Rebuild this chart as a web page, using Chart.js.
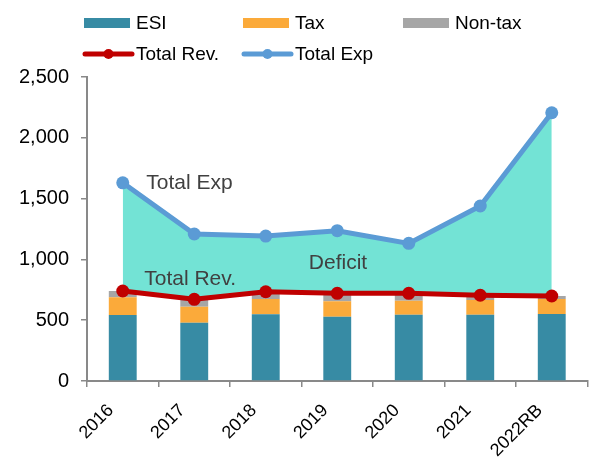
<!DOCTYPE html>
<html>
<head>
<meta charset="utf-8">
<script src="https://cdn.jsdelivr.net/npm/chart.js@4/dist/chart.umd.min.js"></script>
<style>
  html, body { margin: 0; padding: 0; background: #fff; }
  canvas { display: block; }
</style>
</head>
<body>
<canvas id="c" width="594" height="459"></canvas>
<script>
const years = ['2016','2017','2018','2019','2020','2021','2022RB'];
const esi = [543, 480, 548, 529, 545, 545, 551];
const tax = [145, 131, 126, 126, 115, 121, 123];
const nonTax = [52, 61, 60, 66, 61, 39, 25];
const totalRev = [740, 672, 734, 721, 721, 705, 699];
const totalExp = [1630, 1209, 1192, 1236, 1132, 1439, 2206];
const yTicks = [0, 500, 1000, 1500, 2000, 2500];

// in-chart labels: text, category position, value
const notes = [
  { text: 'Total Exp', x: 0.33, y: 1628, align: 'left' },
  { text: 'Total Rev.', x: 0.30, y: 839, align: 'left' },
  { text: 'Deficit', x: 3.01, y: 970, align: 'center' }
];

const FONT = '"Liberation Sans", Arial, sans-serif';
const axisGray = '#898989';

const notesPlugin = {
  id: 'notes',
  afterDatasetsDraw(chart) {
    const { ctx, scales: { x, y } } = chart;
    ctx.save();
    ctx.font = '21px ' + FONT;
    ctx.fillStyle = '#404040';
    ctx.textBaseline = 'middle';
    notes.forEach(n => {
      ctx.textAlign = n.align;
      ctx.fillText(n.text, x.getPixelForValue(n.x), y.getPixelForValue(n.y));
    });
    ctx.restore();
  }
};

// two-row legend with fixed columns
const legendPlugin = {
  id: 'gridLegend',
  afterDraw(chart) {
    const ctx = chart.ctx;
    const cols = [84, 243, 403], rows = [23, 54];
    ctx.save();
    ctx.font = '19px ' + FONT;
    ctx.textBaseline = 'middle';
    ctx.textAlign = 'left';
    chart.data.datasets.forEach((ds, i) => {
      const cx = cols[i < 3 ? i : i - 3], cy = rows[i < 3 ? 0 : 1];
      if (ds.type === 'line') {
        ctx.strokeStyle = ds.borderColor; ctx.lineWidth = 5; ctx.lineCap = 'round';
        ctx.beginPath(); ctx.moveTo(cx + 1, cy); ctx.lineTo(cx + 48, cy); ctx.stroke();
        ctx.fillStyle = ds.borderColor;
        ctx.beginPath(); ctx.arc(cx + 24.5, cy, 5, 0, Math.PI * 2); ctx.fill();
      } else {
        ctx.fillStyle = ds.backgroundColor;
        ctx.fillRect(cx, cy - 5, 46, 10);
      }
      ctx.fillStyle = '#000';
      ctx.fillText(ds.label, cx + 52, cy + 1);
    });
    ctx.restore();
  }
};

const barDs = (label, data, color) => ({
  type: 'bar', label, data, backgroundColor: color, stack: 'rev', order: 2,
  barPercentage: 0.39, categoryPercentage: 1
});

new Chart(document.getElementById('c'), {
  data: {
    labels: years,
    datasets: [
      barDs('ESI', esi, '#378ba4'),
      barDs('Tax', tax, '#fbaa3a'),
      barDs('Non-tax', nonTax, '#a6a6a6'),
      { type: 'line', label: 'Total Rev.', data: totalRev, stack: 'l1', order: 0,
        borderColor: '#c00000', backgroundColor: '#c00000', borderWidth: 5,
        pointRadius: 6.5, pointBackgroundColor: '#c00000', pointBorderWidth: 0, fill: false },
      { type: 'line', label: 'Total Exp', data: totalExp, stack: 'l2', order: 1,
        borderColor: '#5b9bd5', backgroundColor: '#73e3d5', borderWidth: 5,
        pointRadius: 6.5, pointBackgroundColor: '#5b9bd5', pointBorderWidth: 0, fill: 3 }
    ]
  },
  options: {
    responsive: false,
    devicePixelRatio: 1,
    animation: false,
    layout: { padding: { top: 77, right: 1, left: 0, bottom: 0 } },
    plugins: { legend: { display: false }, tooltip: { enabled: false } },
    scales: {
      x: {
        stacked: true,
        offset: true,
        grid: { offset: true, drawOnChartArea: false, tickLength: 6, color: axisGray, lineWidth: 1.5 },
        border: { color: axisGray, width: 2 },
        ticks: { color: '#000', font: { family: FONT, size: 18 }, minRotation: 45, maxRotation: 45,
          autoSkip: false, padding: 13, labelOffset: -12 },
        afterFit: s => { s.height = 78; }
      },
      y: {
        stacked: true,
        min: 0, max: 2500,
        afterBuildTicks: s => { s.ticks = yTicks.map(v => ({ value: v })); },
        grid: { drawOnChartArea: false, tickLength: 6, color: axisGray, lineWidth: 1.5 },
        border: { color: axisGray, width: 2 },
        ticks: { color: '#000', font: { family: FONT, size: 20 }, padding: 12,
          callback: v => v.toLocaleString('en-US') },
        afterFit: s => { s.width = 87; }
      }
    }
  },
  plugins: [notesPlugin, legendPlugin]
});
</script>
</body>
</html>
